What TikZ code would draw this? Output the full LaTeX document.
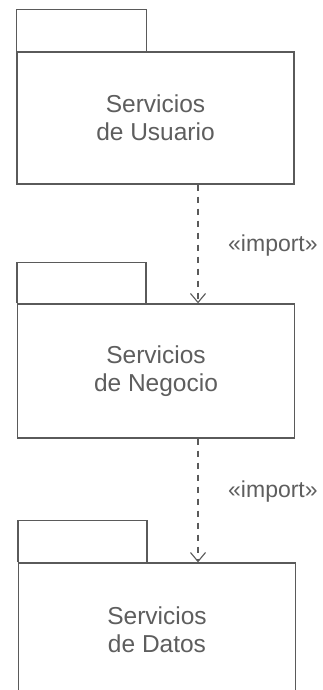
\documentclass[tikz,border=0pt]{standalone}
\usepackage{fontspec}
\setmainfont{Liberation Sans}
\usetikzlibrary{arrows.meta}
\definecolor{ink}{HTML}{5A5A5A}
\definecolor{txt}{HTML}{5E5E5E}
\tikzset{
  pkg/.style={draw=ink, line width=1.3pt, minimum width=277pt, inner sep=0pt,
    text=txt, align=center, font=\fontsize{24.5}{28}\selectfont},
  dep/.style={draw=ink, line width=1.1pt, dash pattern=on 6pt off 6pt,
    -{Straight Barb[length=9pt,width=15pt,line width=1.1pt]}},
  tab/.style={draw=ink, line width=1.3pt},
  lbl/.style={text=txt, font=\fontsize{23}{26}\selectfont, inner sep=0pt}
}
\begin{document}
\begin{tikzpicture}[x=1pt,y=-1pt]
\clip (0,0) rectangle (323,690);
\fill[white] (0,0) rectangle (323,690);
% package 1
\node[pkg, minimum height=132pt] (p1) at (155.5,118) {Servicios\\de Usuario};
\draw[tab] (p1.north west) -- ++(0pt,42pt) -- ++(130pt,0pt) -- ++(0pt,-42pt);
% package 2
\node[pkg, minimum height=134pt] (p2) at (156,371) {Servicios\\de Negocio};
\draw[tab] (p2.north west) -- ++(0pt,41pt) -- ++(129pt,0pt) -- ++(0pt,-41pt);
% package 3
\node[pkg, minimum height=134pt] (p3) at (157,630) {Servicios\\de Datos};
\draw[tab] (p3.north west) -- ++(0pt,42pt) -- ++(129pt,0pt) -- ++(0pt,-42pt);
% dependencies
\draw[dep] ([xshift=42.5pt]p1.south) -- ([xshift=42pt]p2.north);
\draw[dep] ([xshift=42pt]p2.south) -- ([xshift=41pt]p3.north);
\node[lbl, anchor=west] (l1) at (228,246) {«import»};
\node[lbl, anchor=west] (l2) at (228,492) {«import»};
\end{tikzpicture}
\end{document}
